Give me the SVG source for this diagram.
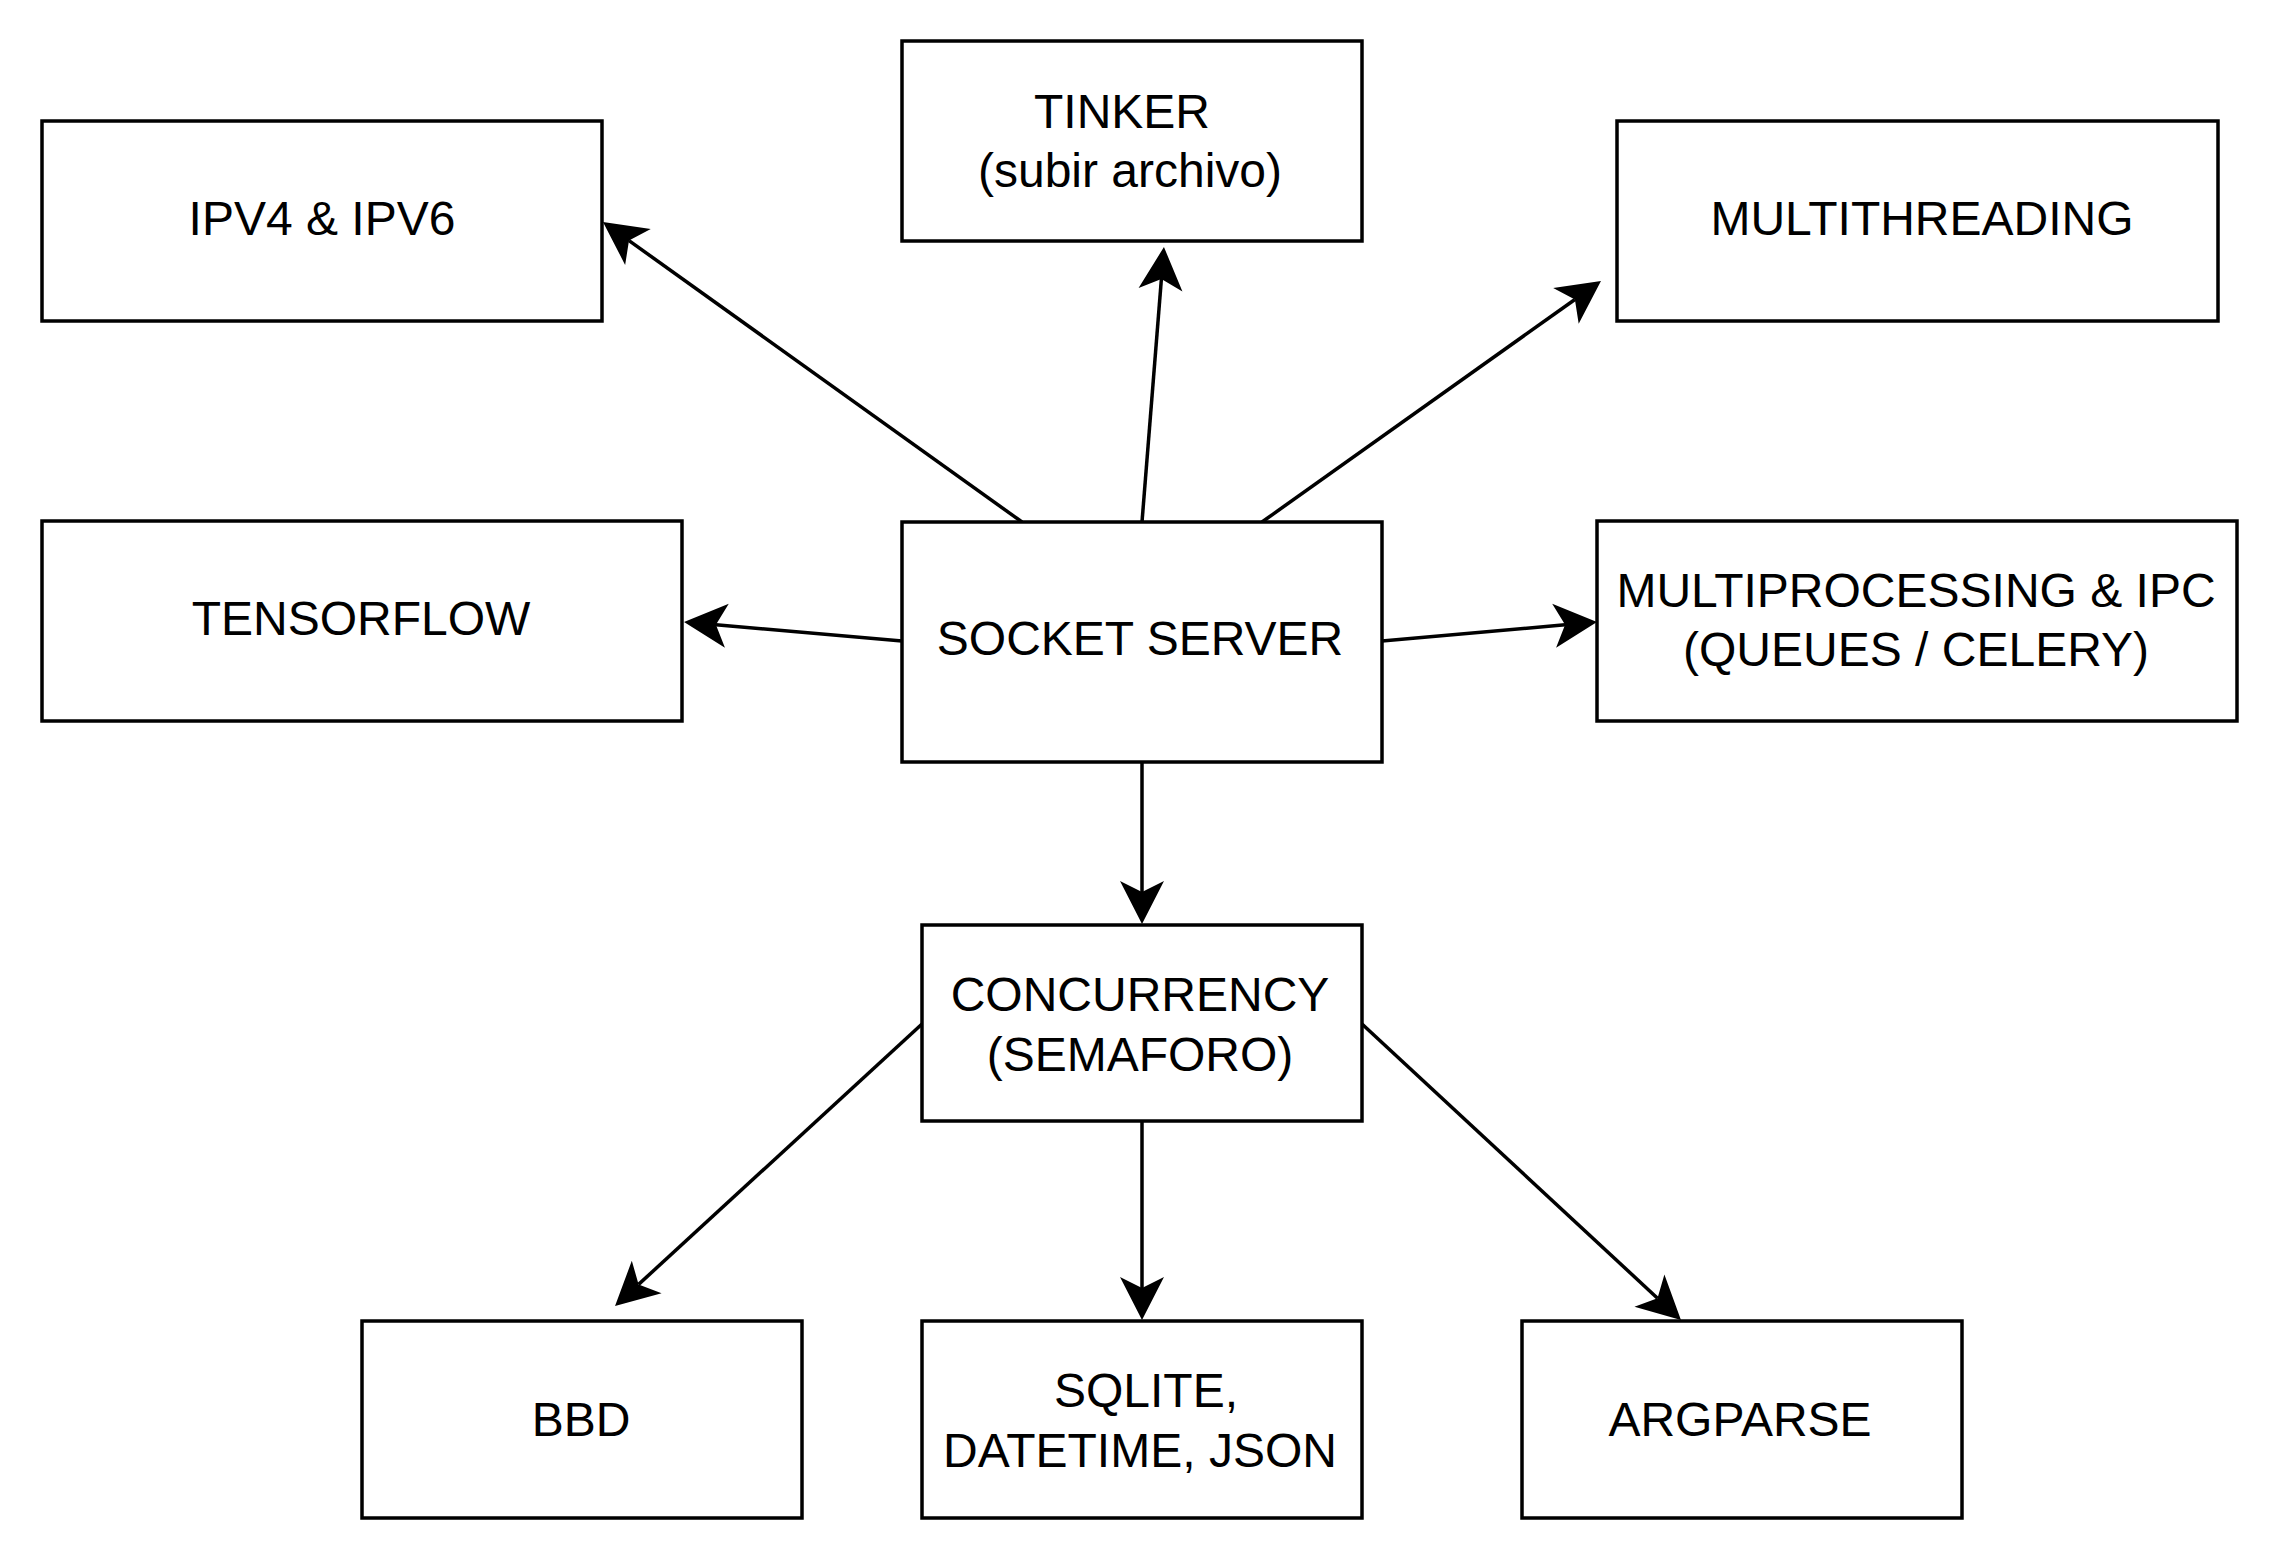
<svg xmlns="http://www.w3.org/2000/svg" width="2280" height="1560" viewBox="0 0 2280 1560">
<style>
.box{fill:#fff;stroke:#000;stroke-width:3.5}
.lbl{font-family:"Liberation Sans",Arial,sans-serif;font-size:48px;fill:#000;text-anchor:middle}
.conn{fill:none;stroke:#000;stroke-width:3.5}
</style>
<defs>
<marker id="arr" markerUnits="userSpaceOnUse" viewBox="-12 -23 46 46" markerWidth="46" markerHeight="46" refX="0" refY="0" orient="auto" overflow="visible">
<path d="M0,0 L-11,-22 L32,0 L-11,22 Z" fill="#000"/>
</marker>
</defs>
<rect width="2280" height="1560" fill="#fff"/>
<g id="connectors">
<line class="conn" x1="1022" y1="522" x2="629" y2="240.6" marker-end="url(#arr)"/>
<line class="conn" x1="1142" y1="522" x2="1161.4" y2="278.9" marker-end="url(#arr)"/>
<line class="conn" x1="1262" y1="522" x2="1574.9" y2="299.5" marker-end="url(#arr)"/>
<line class="conn" x1="902" y1="641" x2="715.9" y2="624.8" marker-end="url(#arr)"/>
<line class="conn" x1="1382" y1="641" x2="1565.1" y2="624.8" marker-end="url(#arr)"/>
<line class="conn" x1="1142" y1="762" x2="1142" y2="892" marker-end="url(#arr)"/>
<line class="conn" x1="922" y1="1024" x2="638.6" y2="1284.4" marker-end="url(#arr)"/>
<line class="conn" x1="1142" y1="1122" x2="1142" y2="1288" marker-end="url(#arr)"/>
<line class="conn" x1="1362" y1="1024" x2="1657.5" y2="1298.2" marker-end="url(#arr)"/>
</g>
<g id="ipv">
<rect class="box" x="42" y="121" width="560" height="200"/>
<text class="lbl" x="322" y="235">IPV4 &amp; IPV6</text>
</g>
<g id="tinker">
<rect class="box" x="902" y="41" width="460" height="200"/>
<text class="lbl" x="1122" y="128">TINKER</text>
<text class="lbl" x="1130" y="187">(subir archivo)</text>
</g>
<g id="multithreading">
<rect class="box" x="1617" y="121" width="601" height="200"/>
<text class="lbl" x="1922" y="235">MULTITHREADING</text>
</g>
<g id="tensorflow">
<rect class="box" x="42" y="521" width="640" height="200"/>
<text class="lbl" x="361" y="635">TENSORFLOW</text>
</g>
<g id="socket">
<rect class="box" x="902" y="522" width="480" height="240"/>
<text class="lbl" x="1140" y="655">SOCKET SERVER</text>
</g>
<g id="multiprocessing">
<rect class="box" x="1597" y="521" width="640" height="200"/>
<text class="lbl" x="1916" y="607">MULTIPROCESSING &amp; IPC</text>
<text class="lbl" x="1916" y="666">(QUEUES / CELERY)</text>
</g>
<g id="concurrency">
<rect class="box" x="922" y="925" width="440" height="196"/>
<text class="lbl" x="1140" y="1011">CONCURRENCY</text>
<text class="lbl" x="1140" y="1071">(SEMAFORO)</text>
</g>
<g id="bbd">
<rect class="box" x="362" y="1321" width="440" height="197"/>
<text class="lbl" x="581" y="1436">BBD</text>
</g>
<g id="sqlite">
<rect class="box" x="922" y="1321" width="440" height="197"/>
<text class="lbl" x="1146" y="1407">SQLITE,</text>
<text class="lbl" x="1140" y="1467">DATETIME, JSON</text>
</g>
<g id="argparse">
<rect class="box" x="1522" y="1321" width="440" height="197"/>
<text class="lbl" x="1740" y="1436">ARGPARSE</text>
</g>
</svg>
